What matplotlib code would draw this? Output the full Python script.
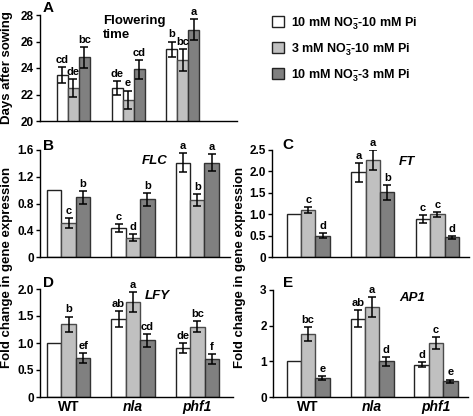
import matplotlib.pyplot as plt
import numpy as np

plt.rcParams['font.family'] = ['Liberation Sans', 'DejaVu Sans']
plt.rcParams['font.weight'] = 'bold'
plt.rcParams['mathtext.fontset'] = 'custom'
plt.rcParams['mathtext.rm'] = 'Liberation Sans:bold'
plt.rcParams['mathtext.it'] = 'Liberation Sans:italic:bold'
plt.rcParams['mathtext.bf'] = 'Liberation Sans:bold'

genotypes = ['WT', 'nla', 'phf1']
treatments = [r'10 mM NO$_3^{-}$-10 mM Pi',
              r'3 mM NO$_3^{-}$-10 mM Pi',
              r'10 mM NO$_3^{-}$-3 mM Pi']

# one row per treatment, one column per genotype (WT, nla, phf1)
flower_mean = [[23.5, 22.5, 25.4], [22.5, 21.6, 24.6], [24.8, 23.9, 26.9]]
flower_err = [[0.6, 0.5, 0.6], [0.7, 0.7, 0.8], [0.8, 0.7, 0.8]]
flower_sig = [['cd', 'de', 'b'], ['de', 'e', 'bc'], ['bc', 'cd', 'a']]

flc_mean = [[1.0, 0.43, 1.41], [0.51, 0.29, 0.85], [0.89, 0.86, 1.41]]
flc_err = [[0, 0.06, 0.14], [0.07, 0.05, 0.09], [0.09, 0.09, 0.13]]
flc_sig = [['', 'c', 'a'], ['c', 'd', 'b'], ['b', 'b', 'a']]

ft_mean = [[1.0, 1.98, 0.89], [1.10, 2.27, 1.0], [0.50, 1.51, 0.46]]
ft_err = [[0, 0.22, 0.09], [0.07, 0.23, 0.06], [0.06, 0.18, 0.04]]
ft_sig = [['', 'a', 'c'], ['c', 'a', 'c'], ['d', 'b', 'd']]

lfy_mean = [[1.0, 1.45, 0.91], [1.35, 1.76, 1.30], [0.72, 1.05, 0.70]]
lfy_err = [[0, 0.15, 0.09], [0.14, 0.18, 0.10], [0.09, 0.12, 0.09]]
lfy_sig = [['', 'ab', 'de'], ['b', 'a', 'bc'], ['ef', 'cd', 'f']]

ap1_mean = [[1.0, 2.2, 0.91], [1.76, 2.51, 1.52], [0.53, 1.0, 0.44]]
ap1_err = [[0, 0.25, 0.08], [0.19, 0.28, 0.17], [0.06, 0.12, 0.05]]
ap1_sig = [['', 'ab', 'd'], ['bc', 'a', 'c'], ['e', 'd', 'e']]

colors = ['white', '#c0c0c0', '#808080']
edges = ['#222222', '#4a4a4a', '#333333']

W, H = 473, 416
fig = plt.figure(figsize=(W / 100, H / 100), dpi=100)


def px_rect(l, t, r, b):
    return [l / W, 1 - b / H, (r - l) / W, (b - t) / H]


def panel(rect, xlim, bw, means, errs, sigs, ylim, yticks, ylabels, xlabels=False):
    ax = fig.add_axes(rect)
    x = np.arange(len(genotypes))
    for i in range(3):
        pos = x + (i - 1) * bw
        ax.bar(pos, means[i], bw, bottom=0, color=colors[i], edgecolor=edges[i],
               linewidth=1, zorder=2)
        for p, m, e, s in zip(pos, means[i], errs[i], sigs[i]):
            if e > 0:
                ax.errorbar(p, m, yerr=e, fmt='none', ecolor='black',
                            elinewidth=1.1, capsize=3, capthick=1.1, zorder=3)
            if s:
                ax.annotate(s, (p, m + e), xytext=(0, 1.5), textcoords='offset points',
                            ha='center', va='bottom', fontsize=8, fontweight='bold')
    ax.set_xlim(*xlim)
    ax.set_ylim(*ylim)
    ax.set_yticks(yticks)
    ax.set_yticklabels(ylabels, fontsize=8.5, fontweight='bold')
    ax.tick_params(axis='y', direction='out', length=3, width=1, pad=1.5)
    if xlabels:
        ax.set_xticks(x)
        ax.set_xticklabels(genotypes, fontsize=10, fontweight='bold')
        for lab in ax.get_xticklabels()[1:]:
            lab.set_style('italic')
        ax.tick_params(axis='x', length=0, pad=2)
    else:
        ax.set_xticks([])
    for s in ['top', 'right']:
        ax.spines[s].set_visible(False)
    ax.spines['left'].set_linewidth(1)
    ax.spines['bottom'].set_linewidth(1)
    ax.patch.set_alpha(0)
    return ax


axA = panel(px_rect(40, 15, 237, 121), (-0.608, 2.987), 0.2,
            flower_mean, flower_err, flower_sig, (20, 28),
            [20, 22, 24, 26, 28], ['20', '22', '24', '26', '28'])
axB = panel(px_rect(40, 150, 230, 257), (-0.446, 2.509), 0.224,
            flc_mean, flc_err, flc_sig, (0, 1.6),
            [0, 0.4, 0.8, 1.2, 1.6], ['0', '0.4', '0.8', '1.2', '1.6'])
axC = panel(px_rect(272, 150, 469, 257), (-0.563, 2.49), 0.222,
            ft_mean, ft_err, ft_sig, (0, 2.5),
            [0, 0.5, 1, 1.5, 2, 2.5], ['0', '0.5', '1.0', '1.5', '2.0', '2.5'])
axD = panel(px_rect(40, 289, 233, 397), (-0.446, 2.555), 0.224,
            lfy_mean, lfy_err, lfy_sig, (0, 2.0),
            [0, 0.5, 1, 1.5, 2], ['0', '0.5', '1.0', '1.5', '2.0'], xlabels=True)
axE = panel(px_rect(273, 290, 468, 397), (-0.547, 2.5), 0.224,
            ap1_mean, ap1_err, ap1_sig, (0, 3),
            [0, 1, 2, 3], ['0', '1', '2', '3'], xlabels=True)

# panel letters
for lab, (px, py) in zip('ABCDE', [(48, 8), (48, 146), (288, 145), (48, 283), (288, 283)]):
    fig.text(px / W, 1 - py / H, lab, fontsize=11, fontweight='bold', ha='center', va='center')

# gene / trait names
fig.text(103 / W, 1 - 28 / H, 'Flowering\ntime', fontsize=9.5, fontweight='bold',
         ha='left', va='center', linespacing=1.2)
fig.text(155 / W, 1 - 161 / H, 'FLC', fontsize=9.5, fontweight='bold', style='italic',
         ha='center', va='center')
fig.text(407 / W, 1 - 162 / H, 'FT', fontsize=9.5, fontweight='bold', style='italic',
         ha='center', va='center')
fig.text(157 / W, 1 - 296 / H, 'LFY', fontsize=9.5, fontweight='bold', style='italic',
         ha='center', va='center')
fig.text(412 / W, 1 - 298 / H, 'AP1', fontsize=9.5, fontweight='bold', style='italic',
         ha='center', va='center')

# y labels
fig.text(7 / W, 1 - 68 / H, 'Days after sowing', rotation=90, fontsize=9.5,
         fontweight='bold', ha='center', va='center')
fig.text(7 / W, 1 - 267 / H, 'Fold change in gene expression', rotation=90, fontsize=9.5,
         fontweight='bold', ha='center', va='center')
fig.text(240 / W, 1 - 267 / H, 'Fold change in gene expression', rotation=90, fontsize=9.5,
         fontweight='bold', ha='center', va='center')

# legend
handles = [plt.Rectangle((0, 0), 1, 1, facecolor=c, edgecolor='#222222', linewidth=1)
           for c in colors]
fig.legend(handles, treatments, loc='upper left', bbox_to_anchor=(272 / W, 1 - 15 / H),
           frameon=False, fontsize=9, handlelength=0.95, handleheight=0.95,
           handletextpad=0.55, labelspacing=0.75, borderpad=0, borderaxespad=0)

fig.savefig('out.png', dpi=100)
